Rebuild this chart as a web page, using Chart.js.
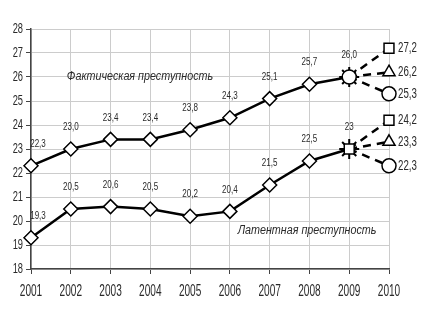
<!DOCTYPE html>
<html><head><meta charset="utf-8">
<script src="https://cdn.jsdelivr.net/npm/chart.js@4"></script>
<style>html,body{margin:0;padding:0;background:#fff}</style>
</head><body>
<canvas id="c" width="427" height="320"></canvas>
<script>
const years = ['2001','2002','2003','2004','2005','2006','2007','2008','2009','2010'];
const factual = [22.3, 23.0, 23.4, 23.4, 23.8, 24.3, 25.1, 25.7, 26.0];
const latent = [19.3, 20.5, 20.6, 20.5, 20.2, 20.4, 21.5, 22.5, 23];
const factLabels = ['22,3','23,0','23,4','23,4','23,8','24,3','25,1','25,7','26,0'];
const latentLabels = ['19,3','20,5','20,6','20,5','20,2','20,4','21,5','22,5','23'];
const factForecast = [27.2, 26.2, 25.3];
const latentForecast = [24.2, 23.3, 22.3];
const forecastLabels = [['27,2','26,2','25,3'], ['24,2','23,3','22,3']];
const forecastStyles = ['rect', 'triangle', 'circle'];
const seriesNames = ['Фактическая преступность', 'Латентная преступность'];

const FONT = '"Liberation Sans", Arial, sans-serif';

function mainDataset(values, lastStyle) {
  return {
    data: values,
    borderColor: '#000', borderWidth: 2.5, tension: 0,
    pointStyle: values.map((v, i) => i === values.length - 1 ? lastStyle : 'rectRot'),
    pointRadius: 7, pointBorderWidth: 1.5,
    pointBackgroundColor: '#fff', pointBorderColor: '#000'
  };
}
function forecastDataset(start, end, style) {
  const d = years.map(() => null);
  d[8] = start; d[9] = end;
  return {
    data: d, borderColor: '#000', borderWidth: 2.5, borderDash: [8, 6], spanGaps: false,
    pointStyle: style, pointRadius: d.map((v, i) => i === 9 ? 7 : 0),
    pointBorderWidth: 1.5, pointBackgroundColor: '#fff', pointBorderColor: '#000'
  };
}
const lastIdx = factual.length - 1;
const datasets = [
  mainDataset(factual, 'circle'),
  mainDataset(latent, 'rect'),
  {
    data: years.map((y, i) => i === lastIdx ? factual[lastIdx] : null),
    showLine: false, pointStyle: 'star', pointRadius: 10, pointBorderWidth: 2,
    pointBorderColor: '#000', pointBackgroundColor: '#fff'
  },
  {
    data: years.map((y, i) => i === lastIdx ? latent[lastIdx] : null),
    showLine: false, pointStyle: 'star', pointRadius: 10, pointBorderWidth: 2,
    pointBorderColor: '#000', pointBackgroundColor: '#fff'
  }
];
factForecast.forEach((v, k) => datasets.push(forecastDataset(factual[lastIdx], v, forecastStyles[k])));
latentForecast.forEach((v, k) => datasets.push(forecastDataset(latent[lastIdx], v, forecastStyles[k])));

function txt(ctx, t, x, y, align, sx) {
  ctx.save();
  ctx.translate(x, y);
  ctx.scale(sx, 1);
  ctx.textAlign = align;
  ctx.fillText(t, 0, 0);
  ctx.restore();
}

const labelPlugin = {
  id: 'labels',
  afterDatasetsDraw(chart) {
    const ctx = chart.ctx;
    const xs = chart.scales.x, ys = chart.scales.y;
    ctx.save();
    ctx.fillStyle = '#2a2a2a';
    ctx.textBaseline = 'middle';
    // axis tick labels (compressed like the original)
    ctx.font = '16px ' + FONT;
    xs.ticks.forEach((tk, i) => txt(ctx, years[i], xs.getPixelForTick(i), 292, 'center', 0.63));
    ctx.font = '15px ' + FONT;
    ys.ticks.forEach((tk, i) => txt(ctx, String(tk.value), 23, ys.getPixelForTick(i), 'right', 0.62));
    // data labels
    ctx.font = '11.5px ' + FONT;
    [[0, factLabels], [1, latentLabels]].forEach(([di, labs]) => {
      const meta = chart.getDatasetMeta(di);
      labs.forEach((t, i) => {
        const p = meta.data[i];
        txt(ctx, t, i === 0 ? p.x + 7 : p.x, p.y - 22, 'center', 0.7);
      });
    });
    ctx.font = '14.5px ' + FONT;
    for (let k = 0; k < 6; k++) {
      const p = chart.getDatasetMeta(4 + k).data[9];
      const t = forecastLabels[k < 3 ? 0 : 1][k % 3];
      txt(ctx, t, p.x + 9, p.y, 'left', 0.67);
    }
    ctx.font = 'italic 12.5px ' + FONT;
    txt(ctx, seriesNames[0], xs.getPixelForValue(2.74), ys.getPixelForValue(26.0), 'center', 0.86);
    txt(ctx, seriesNames[1], xs.getPixelForValue(6.94), ys.getPixelForValue(19.6), 'center', 0.86);
    ctx.restore();
  }
};

new Chart(document.getElementById('c'), {
  type: 'line',
  data: { labels: years, datasets },
  plugins: [labelPlugin],
  options: {
    responsive: false, animation: false, devicePixelRatio: 1,
    layout: { padding: { top: 29, right: 38, left: 0, bottom: 0 } },
    plugins: { legend: { display: false }, tooltip: { enabled: false } },
    scales: {
      x: {
        offset: false,
        grid: { color: '#cccccc', lineWidth: 1, tickColor: '#444', tickLength: 5 },
        border: { color: '#444', width: 1.5 },
        ticks: { display: false, autoSkip: false },
        afterFit(s) { s.height = 51; }
      },
      y: {
        min: 18, max: 28,
        grid: { color: '#cccccc', lineWidth: 1, tickColor: '#444', tickLength: 5 },
        border: { color: '#444', width: 1.5 },
        ticks: { display: false, stepSize: 1 },
        afterFit(s) { s.width = 31; }
      }
    }
  }
});
</script>
</body></html>
